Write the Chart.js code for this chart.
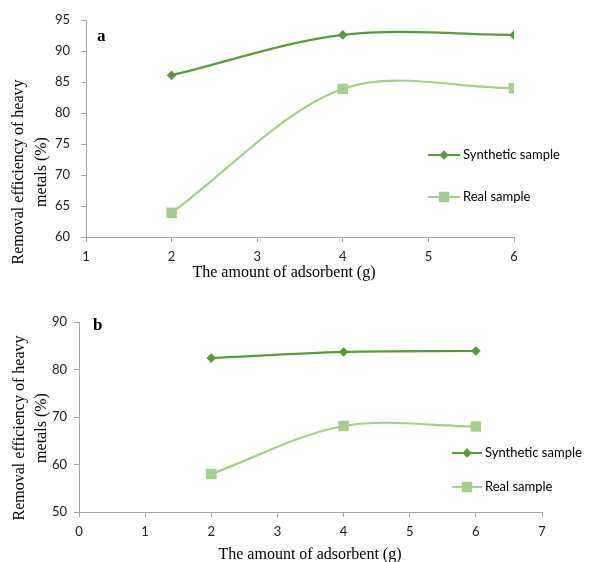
<!DOCTYPE html>
<html>
<head>
<meta charset="utf-8">
<script src="https://cdn.jsdelivr.net/npm/chart.js@4.4.0/dist/chart.umd.min.js"></script>
<style>
    html, body { margin: 0; padding: 0; background: #fff; }
    #wrap { position: relative; width: 594px; height: 562px; overflow: hidden; }
    canvas { position: absolute; left: 0; }
</style>
</head>
<body>
<div id="wrap">
    <canvas id="chartA" width="594" height="288" style="top:0"></canvas>
    <canvas id="chartB" width="594" height="272" style="top:290px"></canvas>
</div>
<script>
// Data
const amounts = [2, 4, 6];
const synthA = [86.1, 92.6, 92.6];
const realA = [63.9, 83.9, 84.0];
const synthB = [82.4, 83.7, 83.9];
const realB = [58.0, 68.1, 68.0];

const seriesNames = ['Synthetic sample', 'Real sample'];
const yTitle = ['Removal efficiency of heavy', 'metals (%)'];
const xTitle = 'The amount of adsorbent (g)';

// axis ranges [min, max, step]
const xRangeA = [1, 6, 1];
const yRangeA = [60, 95, 5];
const xRangeB = [0, 7, 1];
const yRangeB = [50, 90, 10];

const DARK = '#5a9a3a';
const LIGHT = '#a6cf8e';
const AXIS = '#a6a6a6';
const SERIF = '"Liberation Serif", "Times New Roman", serif';
const SANS = 'Lato, "Open Sans", sans-serif';

const toPoints = (xs, ys) => xs.map((x, i) => ({ x: x, y: ys[i] }));

function drawMarker(ctx, style, x, y, r, color) {
    ctx.fillStyle = color;
    ctx.beginPath();
    if (style === 'rectRot') {
        ctx.moveTo(x, y - r);
        ctx.lineTo(x + r, y);
        ctx.lineTo(x, y + r);
        ctx.lineTo(x - r, y);
        ctx.closePath();
    } else {
        const s = r * Math.SQRT1_2;
        ctx.rect(x - s, y - s, 2 * s, 2 * s);
    }
    ctx.fill();
}

// titles, panel letter and legend drawn on top of the chart
const overlay = {
    id: 'overlay',
    afterDraw(chart, args, o) {
        const ctx = chart.ctx;
        ctx.save();
        ctx.fillStyle = '#000';
        ctx.textBaseline = 'middle';

        ctx.font = 'bold 17px ' + SERIF;
        ctx.textAlign = 'left';
        ctx.fillText(o.panel, o.panelX, o.panelY);

        ctx.font = '16px ' + SERIF;
        ctx.textAlign = 'center';
        yTitle.forEach((line, i) => {
            ctx.save();
            ctx.translate(o.yTitleX[i], o.yTitleY);
            ctx.rotate(-Math.PI / 2);
            ctx.fillText(line, 0, 0);
            ctx.restore();
        });
        ctx.fillText(xTitle, o.xTitleX, o.xTitleY);

        // legend
        ctx.font = '13px ' + SANS;
        ctx.textAlign = 'left';
        chart.data.datasets.forEach((ds, i) => {
            const y = o.legendY[i];
            ctx.strokeStyle = ds.borderColor;
            ctx.lineWidth = 2;
            ctx.beginPath();
            ctx.moveTo(o.legendX0, y);
            ctx.lineTo(o.legendX1, y);
            ctx.stroke();
            drawMarker(ctx, ds.pointStyle, (o.legendX0 + o.legendX1) / 2, y, ds.pointRadius, ds.borderColor);
            ctx.fillStyle = '#000';
            ctx.fillText(ds.label, o.legendX1 + 3, y);
        });
        ctx.restore();
    }
};

function makeChart(id, synth, real, xRange, yRange, lay) {
    return new Chart(document.getElementById(id), {
        type: 'line',
        data: {
            datasets: [
                {
                    label: seriesNames[0],
                    data: toPoints(amounts, synth),
                    borderColor: DARK,
                    backgroundColor: DARK,
                    borderWidth: 2.2,
                    pointStyle: 'rectRot',
                    pointRadius: 4.8,
                    pointBorderWidth: 0,
                    tension: 0.33
                },
                {
                    label: seriesNames[1],
                    data: toPoints(amounts, real),
                    borderColor: LIGHT,
                    backgroundColor: LIGHT,
                    borderWidth: 2.2,
                    pointStyle: 'rect',
                    pointRadius: 7.4,
                    pointBorderWidth: 0,
                    tension: 0.33
                }
            ]
        },
        options: {
            responsive: false,
            animation: false,
            layout: { padding: { left: 0, right: lay.right, top: lay.top, bottom: 0 } },
            plugins: {
                legend: { display: false },
                tooltip: { enabled: false },
                overlay: lay.overlay
            },
            scales: {
                x: {
                    type: 'linear',
                    min: xRange[0],
                    max: xRange[1],
                    afterFit: s => { s.height = lay.xHeight; },
                    grid: { drawOnChartArea: false, tickLength: 5, color: AXIS },
                    border: { color: AXIS },
                    ticks: { stepSize: xRange[2], padding: 7, color: '#222', font: { family: SANS, size: 13 } }
                },
                y: {
                    min: yRange[0],
                    max: yRange[1],
                    afterFit: s => { s.width = lay.yWidth; },
                    grid: { drawOnChartArea: false, tickLength: 5, color: AXIS },
                    border: { color: AXIS },
                    ticks: { stepSize: yRange[2], padding: lay.yPad, color: '#222', font: { family: SANS, size: 13 } }
                }
            }
        },
        plugins: [overlay]
    });
}

makeChart('chartA', synthA, realA, xRangeA, yRangeA, {
    right: 80, top: 20, xHeight: 51, yWidth: 86, yPad: 11,
    overlay: {
        panel: 'a', panelX: 97, panelY: 37,
        yTitleX: [19, 42], yTitleY: 172,
        xTitleX: 284, xTitleY: 273,
        legendX0: 428, legendX1: 460, legendY: [155, 197]
    }
});

makeChart('chartB', synthB, realB, xRangeB, yRangeB, {
    right: 52, top: 32, xHeight: 50, yWidth: 79, yPad: 7,
    overlay: {
        panel: 'b', panelX: 93, panelY: 36,
        yTitleX: [20, 42], yTitleY: 138,
        xTitleX: 310, xTitleY: 265,
        legendX0: 452, legendX1: 482, legendY: [163, 197]
    }
});
</script>
</body>
</html>
